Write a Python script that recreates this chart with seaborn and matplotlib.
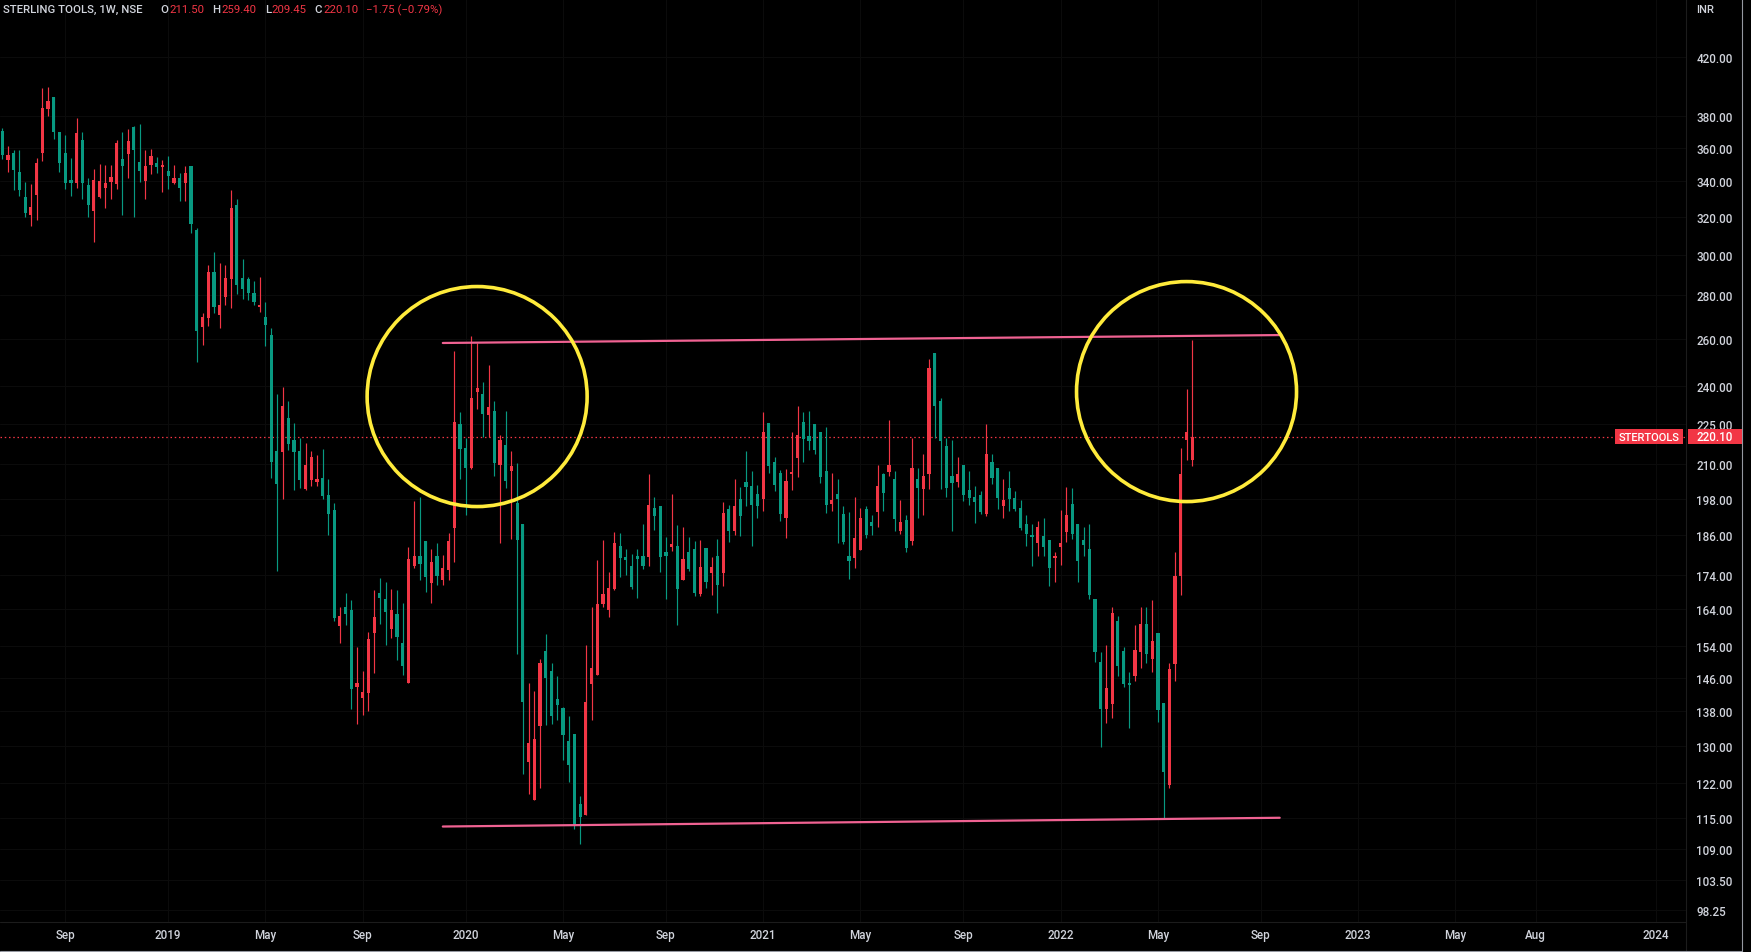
import numpy as np
import pandas as pd
import matplotlib
matplotlib.use("Agg")
import matplotlib.pyplot as plt
import matplotlib.dates as mdates
from matplotlib.patches import Ellipse, Rectangle
from matplotlib.lines import Line2D
from matplotlib.ticker import FixedLocator, FixedFormatter, NullLocator, NullFormatter
import seaborn as sns

# ---------------- data (weekly candles) ----------------
start_week = "2018-06-18"
opens = [370.3, 352.4, 356.6, 345.3, 330.9, 320.9, 332.0, 356.6, 384.4, 392.4,
         369.6, 356.6, 340.6, 338.9, 364.6, 337.7, 323.1, 330.9, 336.0, 339.5,
         338.3, 353.0, 356.0, 372.8, 351.2, 340.1, 349.4, 350.6, 348.5, 345.9,
         338.9, 341.8, 338.9, 348.9, 312.8, 265.3, 269.3, 291.2, 270.7, 279.1,
         287.8, 326.4, 288.3, 287.8, 281.0, 274.6, 269.8, 261.6, 214.7, 214.4,
         227.1, 218.8, 214.7, 201.3, 204.4, 203.7, 205.1, 199.2, 194.2, 159.4,
         164.6, 163.8, 143.7, 141.0, 142.2, 157.5, 168.6, 166.9, 158.6, 162.7,
         154.8, 144.6, 176.5, 179.6, 184.2, 171.5, 179.6, 172.4, 175.3, 188.3,
         224.8, 215.8, 208.6, 237.4, 236.6, 228.3, 229.8, 209.6, 216.9, 207.4,
         196.5, 189.6, 126.5, 118.6, 134.5, 152.7, 147.6, 140.8, 138.6, 131.0,
         132.6, 117.7, 115.5, 144.4, 146.6, 165.5, 163.8, 169.8, 182.6, 179.3,
         176.5, 179.6, 179.6, 179.3, 194.9, 195.5, 180.8, 182.3, 182.6, 172.4,
         180.8, 181.7, 168.3, 182.0, 174.4, 179.6, 174.4, 194.5, 187.4, 197.9,
         203.7, 202.3, 199.5, 197.9, 225.2, 210.7, 206.8, 191.6, 206.5, 212.2,
         225.6, 220.3, 224.8, 221.8, 207.5, 196.2, 199.5, 192.9, 179.6, 178.9,
         181.4, 194.5, 190.3, 193.5, 206.5, 207.2, 204.7, 187.4, 190.9, 184.2,
         204.7, 201.3, 206.5, 253.7, 233.8, 216.6, 205.8, 203.7, 209.6, 200.9,
         198.5, 199.2, 192.9, 210.7, 208.6, 195.5, 201.6, 198.2, 194.9, 189.6,
         185.8, 183.6, 185.8, 184.5, 178.9, 182.3, 187.1, 196.2, 189.6, 184.5,
         181.7, 166.9, 149.9, 138.4, 139.6, 160.7, 152.7, 144.6, 146.4, 152.5,
         159.9, 150.7, 157.5, 139.8, 121.6, 149.4, 173.6, 218.8, 211.50]
highs = [372.0, 360.9, 358.5, 358.5, 339.5, 338.1, 353.6, 398.4, 399.1, 392.4,
         369.6, 367.7, 353.6, 378.6, 369.6, 341.8, 347.1, 350.0, 349.4, 349.4,
         364.6, 369.6, 371.5, 373.4, 374.7, 358.5, 359.1, 354.2, 352.4, 354.9,
         349.4, 344.7, 348.9, 348.9, 313.9, 271.6, 294.7, 301.3, 295.7, 294.7,
         334.9, 329.8, 297.8, 288.8, 286.8, 288.8, 276.7, 264.7, 236.6, 239.4,
         233.8, 225.2, 219.5, 217.7, 214.7, 213.3, 215.5, 204.7, 196.5, 164.6,
         168.6, 166.6, 153.8, 147.6, 157.8, 169.5, 173.0, 171.8, 169.8, 169.5,
         165.7, 182.3, 197.2, 198.5, 184.2, 181.7, 183.6, 179.9, 186.7, 254.6,
         229.5, 219.5, 261.4, 258.1, 241.5, 248.6, 233.8, 220.6, 229.8, 214.7,
         210.4, 189.6, 144.6, 142.7, 150.7, 157.2, 149.6, 146.4, 138.8, 136.7,
         132.6, 119.3, 154.3, 164.6, 178.3, 184.5, 174.7, 187.1, 186.7, 181.7,
         180.2, 181.7, 189.6, 206.5, 198.5, 195.5, 185.5, 199.5, 189.3, 188.7,
         185.5, 184.2, 184.5, 182.0, 179.3, 184.8, 196.9, 195.8, 204.7, 202.0,
         214.7, 207.5, 202.6, 229.5, 225.2, 212.5, 207.9, 208.2, 221.8, 231.8,
         229.5, 229.8, 224.8, 221.8, 223.7, 206.8, 204.7, 195.5, 193.5, 198.5,
         194.9, 195.5, 192.5, 209.6, 206.8, 226.4, 207.5, 197.5, 192.5, 219.5,
         208.6, 213.6, 251.1, 253.7, 235.0, 219.5, 218.8, 212.5, 209.6, 207.5,
         202.3, 200.6, 224.8, 213.6, 208.6, 204.7, 207.5, 200.6, 197.5, 192.5,
         189.6, 190.6, 191.6, 184.5, 180.8, 194.2, 202.0, 201.6, 189.6, 188.7,
         189.6, 166.9, 152.5, 154.3, 164.6, 162.1, 153.8, 147.4, 159.6, 164.6,
         164.6, 166.6, 157.5, 139.8, 149.6, 180.8, 215.8, 238.6, 259.40]
lows = [353.0, 345.3, 334.9, 331.7, 319.8, 315.0, 318.2, 351.8, 379.9, 365.3,
        345.3, 335.5, 331.5, 336.0, 329.8, 319.8, 306.5, 330.3, 324.8, 329.8,
        335.5, 320.9, 341.8, 319.8, 339.5, 329.8, 344.1, 344.7, 333.7, 335.5,
        338.6, 328.7, 328.7, 311.2, 249.9, 257.2, 265.7, 271.6, 264.7, 275.3,
        273.9, 280.5, 278.2, 277.7, 275.3, 272.1, 256.8, 205.1, 175.0, 197.9,
        215.1, 200.9, 201.6, 200.9, 202.3, 202.3, 197.9, 186.1, 160.7, 154.8,
        159.6, 138.4, 134.9, 137.0, 137.9, 147.1, 159.9, 154.3, 156.2, 150.4,
        146.6, 144.6, 175.9, 172.4, 168.9, 165.7, 170.9, 170.9, 172.4, 177.7,
        204.7, 192.5, 208.2, 230.6, 219.9, 219.9, 205.8, 183.7, 201.6, 184.8,
        152.0, 124.0, 119.8, 118.6, 121.0, 134.7, 135.0, 135.9, 126.9, 122.3,
        112.9, 109.9, 115.5, 135.9, 146.6, 164.6, 161.8, 169.5, 173.3, 173.8,
        169.8, 167.2, 175.6, 176.5, 187.7, 174.7, 166.9, 181.1, 159.6, 172.4,
        175.0, 167.7, 167.7, 170.0, 168.0, 162.9, 170.6, 183.9, 186.1, 185.8,
        195.5, 182.6, 191.6, 193.9, 206.8, 200.6, 190.6, 185.2, 200.9, 205.4,
        210.7, 215.1, 213.6, 203.3, 193.2, 193.9, 183.6, 183.3, 172.7, 175.9,
        181.4, 185.2, 186.1, 188.7, 193.9, 205.8, 187.4, 186.4, 180.8, 182.9,
        191.6, 192.5, 201.3, 219.5, 201.3, 198.5, 187.4, 202.0, 197.2, 195.8,
        189.9, 192.9, 192.2, 203.0, 194.5, 191.6, 193.9, 193.9, 187.7, 182.6,
        176.5, 179.6, 179.6, 170.6, 171.8, 176.8, 183.9, 184.8, 171.8, 179.6,
        166.9, 149.9, 129.7, 135.1, 136.3, 146.4, 143.7, 134.0, 145.1, 148.4,
        149.6, 147.4, 135.3, 114.7, 121.0, 145.1, 168.0, 211.5, 209.45]
closes = [355.4, 355.4, 346.5, 334.9, 322.0, 325.3, 350.6, 385.1, 389.7, 369.6,
          350.6, 338.9, 338.9, 369.0, 338.9, 326.4, 340.6, 340.1, 338.9, 342.4,
          362.8, 348.9, 364.0, 358.5, 345.9, 348.9, 354.9, 348.3, 349.1, 343.0,
          341.8, 336.0, 344.7, 316.0, 263.4, 269.8, 291.2, 274.4, 275.3, 288.3,
          324.8, 284.8, 282.9, 281.0, 276.7, 275.1, 266.1, 210.7, 203.0, 231.8,
          217.3, 214.4, 204.4, 209.6, 212.5, 204.7, 198.9, 192.9, 161.6, 162.1,
          162.7, 143.2, 144.6, 142.4, 155.9, 161.8, 167.2, 163.2, 163.8, 156.4,
          148.9, 178.6, 179.6, 177.1, 173.3, 177.7, 173.6, 175.9, 184.2, 225.6,
          215.5, 208.6, 235.0, 239.0, 228.7, 231.4, 210.4, 218.8, 203.9, 209.3,
          184.5, 140.0, 130.6, 131.5, 149.6, 146.0, 136.7, 139.3, 132.4, 125.9,
          113.4, 115.2, 140.0, 148.4, 165.5, 168.3, 170.0, 183.6, 178.9, 178.3,
          170.3, 178.6, 176.5, 195.8, 192.2, 179.3, 179.6, 183.3, 169.8, 178.6,
          175.6, 168.6, 176.2, 171.8, 176.2, 170.9, 193.2, 187.4, 195.5, 192.2,
          202.0, 195.8, 195.5, 221.8, 209.3, 202.6, 192.9, 204.0, 207.2, 220.6,
          219.2, 218.4, 215.1, 205.4, 195.8, 197.5, 197.9, 183.9, 178.0, 185.2,
          191.6, 186.1, 189.0, 202.3, 199.9, 209.6, 191.2, 190.3, 182.0, 208.6,
          201.6, 205.8, 247.3, 231.8, 218.4, 201.6, 203.3, 206.5, 199.2, 198.2,
          196.9, 193.5, 213.6, 205.1, 198.2, 197.5, 197.9, 194.5, 188.3, 186.4,
          185.6, 188.7, 182.3, 175.9, 179.6, 183.6, 192.5, 186.4, 178.0, 182.9,
          168.0, 152.5, 138.4, 143.4, 162.9, 148.9, 144.4, 144.1, 153.0, 159.9,
          152.0, 155.4, 138.1, 124.3, 148.1, 173.6, 206.5, 221.85, 220.10]

price_ticks = [420, 380, 360, 340, 320, 300, 280, 260, 240, 225, 210, 198,
               186, 174, 164, 154, 146, 138, 130, 122, 115, 109, 103.5, 98.25]
time_tick_dates = ["2018-09-03", "2019-01-07", "2019-05-06", "2019-09-02",
                   "2020-01-06", "2020-05-04", "2020-09-07", "2021-01-04",
                   "2021-05-03", "2021-09-06", "2022-01-03", "2022-05-02",
                   "2022-09-05", "2023-01-02", "2023-05-01", "2023-08-07",
                   "2024-01-01"]
time_tick_labels = ["Sep", "2019", "May", "Sep", "2020", "May", "Sep", "2021",
                    "May", "Sep", "2022", "May", "Sep", "2023", "May", "Aug", "2024"]

# drawings on the chart
trend_dates = ["2019-12-09", "2022-09-28"]
resistance_prices = [258.1, 261.6]
support_prices = [113.3, 115.0]
circle_dates = ["2020-01-20", "2022-06-06"]
circle_prices = [235.6, 237.6]

title = "STERLING TOOLS, 1W, NSE"
symbol = "STERTOOLS"
currency = "INR"

# ---------------- style ----------------
W, H, DPI = 1751, 953, 100
BG = "#000000"
UP = "#F23645"
DOWN = "#089981"
TXT = "#D1D4DC"
GRID = "#0b0b0b"
PINK = "#F06292"
YELLOW = "#FFEB3B"

sns.set_theme(style="dark", rc={"axes.facecolor": BG, "figure.facecolor": BG})
plt.rcParams["font.family"] = ["Roboto", "DejaVu Sans"]

fig = plt.figure(figsize=(W / DPI, H / DPI), dpi=DPI)
fig.patch.set_facecolor(BG)
AX_L, AX_B, AX_W, AX_H = 0, 30, 1686, 923
ax = fig.add_axes([AX_L / W, AX_B / H, AX_W / W, AX_H / H])
ax.set_facecolor(BG)
for s in ax.spines.values():
    s.set_visible(False)

dates = pd.date_range(start_week, periods=len(opens), freq="7D")
dn = mdates.date2num(dates)
o = np.array(opens); h = np.array(highs); l = np.array(lows); c = np.array(closes)

ax.set_yscale("log")
x0 = dn[0]
bar_px = 5.721  # pixels per weekly bar
ax.set_xlim(x0 - 2.8, x0 - 2.8 + AX_W / bar_px * 7)
ax.set_ylim(96.3, 463.6)

# ticks & grid
ax.yaxis.set_major_locator(FixedLocator(price_ticks))
ax.yaxis.set_major_formatter(FixedFormatter([f"{v:.2f}" for v in price_ticks]))
ax.yaxis.set_minor_locator(NullLocator())
ax.yaxis.set_minor_formatter(NullFormatter())
tick_nums = mdates.date2num(pd.to_datetime(time_tick_dates))
ax.xaxis.set_major_locator(FixedLocator(tick_nums))
ax.xaxis.set_major_formatter(FixedFormatter(time_tick_labels))
ax.xaxis.set_minor_locator(NullLocator())
ax.yaxis.tick_right()
ax.tick_params(axis="y", which="both", length=0, pad=7.5, labelsize=8.4,
               labelcolor=TXT, right=True, left=False, labelright=True, labelleft=False)
ax.tick_params(axis="x", which="both", length=0, pad=4.5, labelsize=8.4, labelcolor=TXT)
for lab in ax.get_xticklabels() + ax.get_yticklabels():
    lab.set_fontweight("medium")
ax.grid(True, which="major", color=GRID, lw=0.8)
ax.set_axisbelow(True)

# last price dotted line
last_price = closes[-1]
ax.axhline(last_price, color=UP, lw=0.9, ls=(0, (1.2, 2.2)), zorder=2)

# candles
colors = np.where(c >= o, UP, DOWN)
ax.vlines(dn, l, h, colors=colors, lw=0.85, zorder=3)
body_lo = np.minimum(o, c)
body_h = np.maximum(np.abs(c - o), body_lo * 0.0035)
ax.bar(dn, body_h, bottom=body_lo, width=3.9, color=colors, linewidth=0, zorder=4)

# trend lines
tdn = mdates.date2num(pd.to_datetime(trend_dates))
for prices in (resistance_prices, support_prices):
    sns.lineplot(x=tdn, y=prices, ax=ax, color=PINK, lw=1.6, estimator=None,
                 sort=False, zorder=5)

# circles (round in pixel space)
R = 110
for d, p in zip(circle_dates, circle_prices):
    xd = mdates.date2num(pd.Timestamp(d))
    cen = ax.transAxes.inverted().transform(ax.transData.transform((xd, p)))
    ax.add_patch(Ellipse(cen, width=2 * R / AX_W, height=2 * R / AX_H,
                         transform=ax.transAxes, fill=False, ec=YELLOW, lw=2.6,
                         zorder=6))

ax.set_xlabel("")
ax.set_ylabel("")
if ax.get_legend() is not None:
    ax.get_legend().remove()

# separators / frame
fig.add_artist(Line2D([AX_W / W, AX_W / W], [0, 1], transform=fig.transFigure,
                      color="#1c1c1c", lw=0.8))
fig.add_artist(Line2D([0, AX_W / W], [AX_B / H, AX_B / H], transform=fig.transFigure,
                      color="#1c1c1c", lw=0.8))
fig.add_artist(Line2D([1741.5 / W, 1741.5 / W], [0, 1], transform=fig.transFigure,
                      color="#9598A1", lw=0.8))
fig.add_artist(Line2D([0, 1741.5 / W], [0.6 / H, 0.6 / H], transform=fig.transFigure,
                      color="#9598A1", lw=0.8))

# last price labels
ypix = ax.transData.transform((x0, last_price))[1]
yc = ypix / H
bh = 15 / H
fig.add_artist(Rectangle((1615 / W, yc - bh / 2), 68 / W, bh, transform=fig.transFigure,
                         fc=UP, ec="none", zorder=8))
fig.text(1649 / W, yc, symbol, ha="center", va="center", fontsize=8, color="white",
         fontweight="medium", zorder=9)
fig.add_artist(Rectangle((1688 / W, yc - bh / 2), 54 / W, bh, transform=fig.transFigure,
                         fc=UP, ec="none", zorder=8))
fig.text(1715 / W, yc, f"{last_price:.2f}", ha="center", va="center", fontsize=8.4,
         color="white", fontweight="medium", zorder=9)

fig.text(1696 / W, 1 - 10 / H, currency, ha="left", va="center", fontsize=8, color=TXT,
         fontweight="medium")

# header
chg = closes[-1] - closes[-2]
pct = chg / closes[-2] * 100
def fmt_signed(v):
    return ("\u2212" if v < 0 else "+") + f"{abs(v):.2f}"
pieces = [(title, TXT, 18, "medium"),
          ("O", TXT, 1, "medium"), (f"{opens[-1]:.2f}", UP, 8, "normal"),
          ("H", TXT, 1, "medium"), (f"{highs[-1]:.2f}", UP, 8, "normal"),
          ("L", TXT, 1, "medium"), (f"{lows[-1]:.2f}", UP, 8, "normal"),
          ("C", TXT, 1, "medium"), (f"{closes[-1]:.2f}", UP, 8, "normal"),
          (f"{fmt_signed(chg)} ({fmt_signed(pct)}%)", UP, 0, "normal")]
renderer = fig.canvas.get_renderer()
xp = 3
for txt, col, gap, wt in pieces:
    t = fig.text(xp / W, 1 - 10 / H, txt, ha="left", va="center", fontsize=8.2,
                 color=col, fontweight=wt)
    xp += t.get_window_extent(renderer).width + gap

fig.savefig("out.png", dpi=DPI, facecolor=BG)
